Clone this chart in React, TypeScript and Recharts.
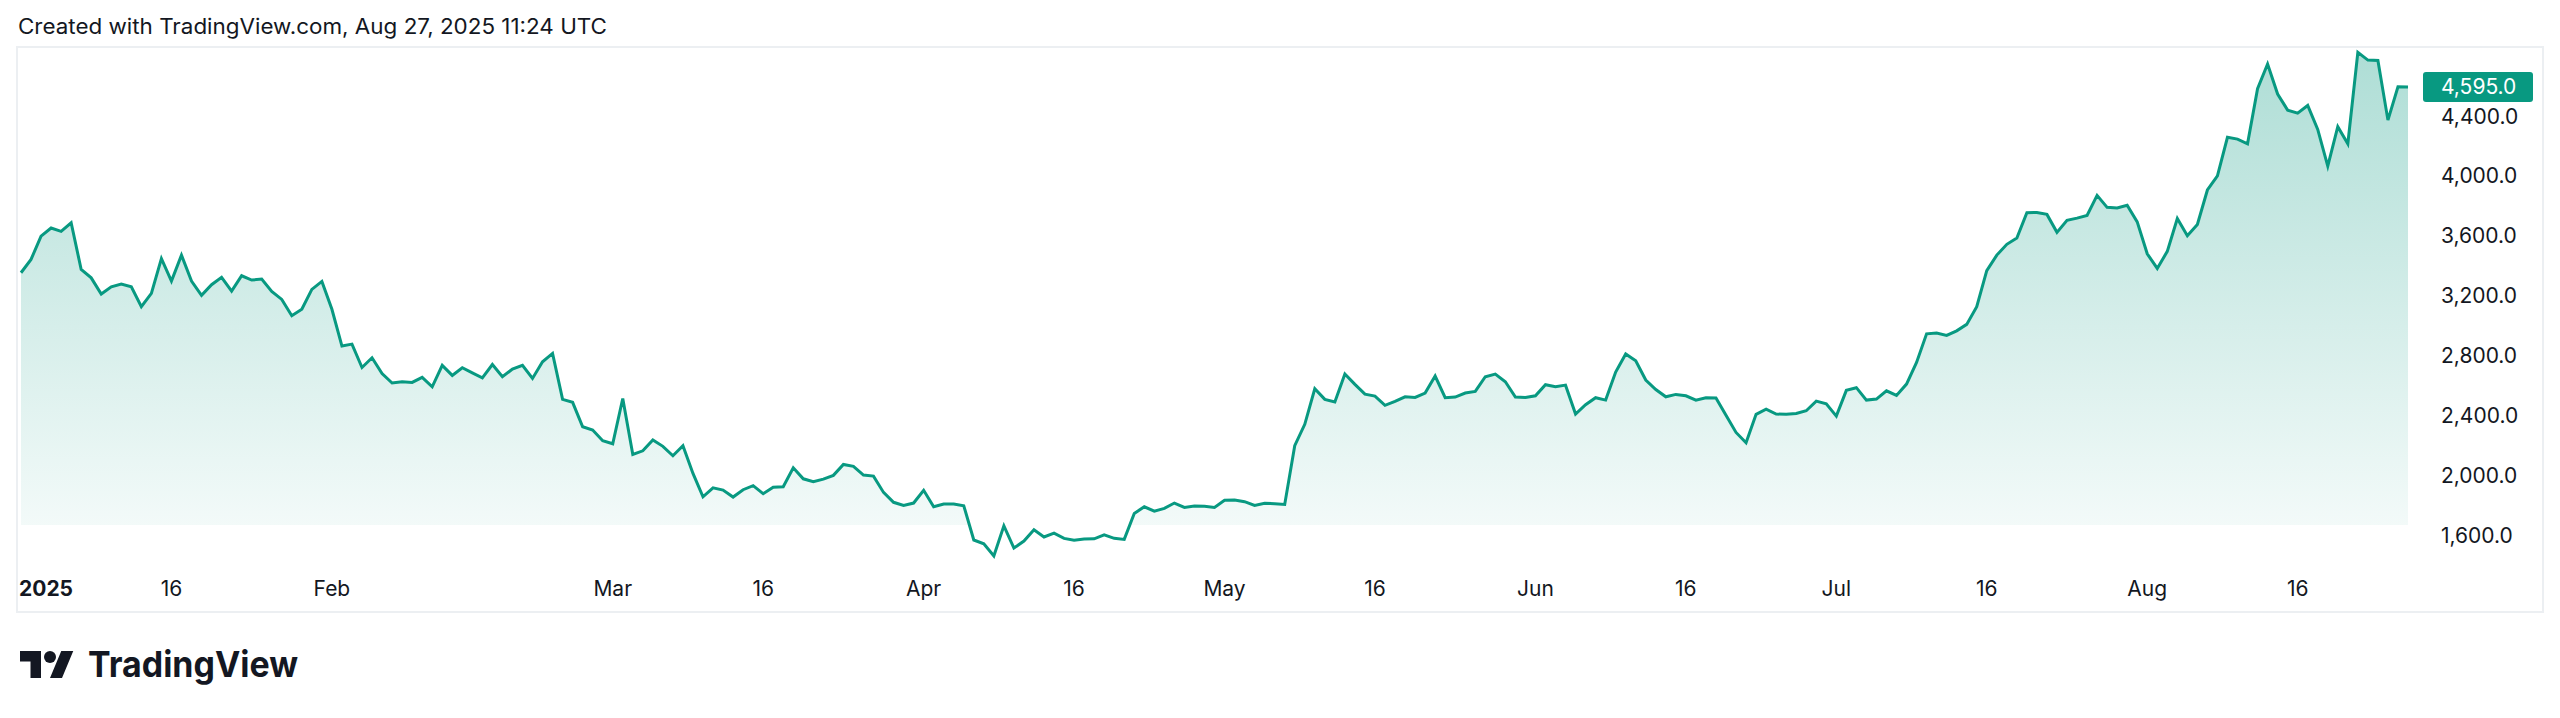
import React from 'react';
import { AreaChart, Area, XAxis, YAxis, ReferenceLine } from 'recharts';

// Daily closes, 2025
const jan = [3353, 3442, 3598, 3652, 3630, 3687, 3375, 3319, 3211, 3259, 3277, 3259, 3126, 3215, 3447, 3297, 3471, 3297, 3202, 3273, 3322, 3230, 3333, 3304, 3311, 3228, 3175, 3066, 3109, 3242, 3295];
const feb = [3109, 2863, 2876, 2720, 2785, 2680, 2616, 2625, 2620, 2654, 2591, 2734, 2667, 2718, 2684, 2651, 2740, 2658, 2709, 2734, 2647, 2758, 2814, 2507, 2487, 2324, 2302, 2230];
const mar = [2210, 2513, 2139, 2163, 2235, 2193, 2130, 2197, 2012, 1856, 1916, 1901, 1854, 1903, 1930, 1876, 1919, 1923, 2050, 1976, 1956, 1974, 1999, 2072, 2059, 2001, 1994, 1885, 1819, 1798, 1814];
const apr = [1899, 1789, 1807, 1807, 1796, 1567, 1542, 1460, 1662, 1513, 1560, 1635, 1587, 1613, 1578, 1565, 1573, 1575, 1602, 1578, 1571, 1745, 1789, 1760, 1778, 1814, 1785, 1794, 1792, 1785];
const may = [1832, 1834, 1823, 1798, 1812, 1810, 1805, 2197, 2340, 2578, 2507, 2489, 2676, 2607, 2542, 2529, 2467, 2493, 2524, 2520, 2549, 2663, 2518, 2522, 2549, 2560, 2658, 2676, 2625, 2522, 2520];
const jun = [2531, 2605, 2591, 2602, 2409, 2471, 2518, 2502, 2689, 2810, 2765, 2636, 2573, 2524, 2540, 2531, 2502, 2518, 2516, 2400, 2286, 2217, 2407, 2442, 2409, 2407, 2413, 2431, 2495, 2477];
const jul = [2395, 2567, 2585, 2502, 2509, 2564, 2533, 2609, 2754, 2945, 2950, 2934, 2965, 3008, 3126, 3367, 3471, 3543, 3585, 3754, 3756, 3743, 3623, 3703, 3718, 3736, 3870, 3790, 3786, 3804, 3693];
const aug = [3480, 3382, 3496, 3716, 3600, 3676, 3906, 4001, 4258, 4246, 4215, 4583, 4748, 4547, 4440, 4420, 4471, 4311, 4066, 4329, 4215, 4826, 4774, 4772, 4373, 4596, 4595];

const values = [...jan, ...feb, ...mar, ...apr, ...may, ...jun, ...jul, ...aug];
const data = values.map((v, i) => ({ i, v }));
const last = values[values.length - 1];

// time axis: day index from Jan 1 and its label
const tickDays = [0, 15, 31, 59, 74, 90, 105, 120, 135, 151, 166, 181, 196, 212, 227];
const tickLabels = ['2025', '16', 'Feb', 'Mar', '16', 'Apr', '16', 'May', '16', 'Jun', '16', 'Jul', '16', 'Aug', '16'];
const priceTicks = [1600, 2000, 2400, 2800, 3200, 3600, 4000, 4400];

const W = 2560;
const H = 718;
const PLOT_LEFT = 21;
const PLOT_RIGHT = 2408;
const PLOT_TOP = 48;
const PLOT_BOTTOM = 565;
const FILL_BOTTOM = 525;
const Y_MIN = 1400;
const Y_MAX = 4855;
const TEAL = '#089981';
const TEXT = '#131722';
const FONT = 'Inter, "Noto Sans", sans-serif';

const fmt = (v: number) =>
  v.toLocaleString('en-US', { minimumFractionDigits: 1, maximumFractionDigits: 1 });

const TimeTick = (props: any) => {
  const { x, payload } = props;
  const idx = tickDays.indexOf(payload.value);
  const first = idx === 0;
  return (
    <text
      x={first ? x - 2 : x}
      y={596}
      textAnchor={first ? 'start' : 'middle'}
      fontFamily={FONT}
      fontSize={21}
      fontWeight={first ? 700 : 400}
      fill={TEXT}
    >
      {tickLabels[idx]}
    </text>
  );
};

const PriceTick = (props: any) => {
  const { y, payload } = props;
  return (
    <text x={PLOT_RIGHT + 33} y={y + 7.5} textAnchor="start" fontFamily={FONT} fontSize={21} fill={TEXT}>
      {fmt(payload.value)}
    </text>
  );
};

const LastLabel = (props: any) => {
  const { viewBox } = props;
  if (!viewBox) return null;
  const x0 = viewBox.x + viewBox.width + 15;
  const y0 = viewBox.y;
  return (
    <g>
      <rect x={x0} y={y0 - 15} width={110} height={30} rx={3} fill={TEAL} />
      <text x={PLOT_RIGHT + 33} y={y0 + 7.5} textAnchor="start" fontFamily={FONT} fontSize={21} fill="#ffffff">
        {fmt(last)}
      </text>
    </g>
  );
};

const cut = (FILL_BOTTOM - PLOT_TOP) / (PLOT_BOTTOM - PLOT_TOP);

export default function App() {
  return (
    <div style={{ position: 'absolute', left: 0, top: 0, width: W, height: H, background: '#ffffff', overflow: 'hidden' }}>
      <svg width={W} height={H} style={{ position: 'absolute', left: 0, top: 0 }}>
        <text x={18} y={34} fontFamily={FONT} fontSize={21} fill={TEXT} textLength={589} lengthAdjust="spacingAndGlyphs">
          Created with TradingView.com, Aug 27, 2025 11:24 UTC
        </text>
        <rect x={17} y={47} width={2526} height={565} fill="none" stroke="#eceff2" strokeWidth={2} />
        <g transform="translate(20, 645) scale(1.5)" fill={TEXT}>
          <path d="M14 22H7V11H0V4h14v18zM28 22h-8l7.5-18h8L28 22z" />
          <circle cx={20} cy={8} r={4} />
        </g>
        <text x={88} y={677} fontFamily={FONT} fontSize={36} fontWeight={700} fill={TEXT} textLength={210} lengthAdjust="spacingAndGlyphs">
          TradingView
        </text>
      </svg>
      <div style={{ position: 'absolute', left: 0, top: 0 }}>
        <AreaChart width={W} height={H} data={data} margin={{ top: PLOT_TOP, right: 0, left: PLOT_LEFT, bottom: 0 }}>
          <defs>
            <linearGradient id="fillGrad" gradientUnits="userSpaceOnUse" x1={0} y1={PLOT_TOP} x2={0} y2={PLOT_BOTTOM}>
              <stop offset={0} stopColor={TEAL} stopOpacity={0.33} />
              <stop offset={cut} stopColor={TEAL} stopOpacity={0.05} />
              <stop offset={cut} stopColor={TEAL} stopOpacity={0} />
              <stop offset={1} stopColor={TEAL} stopOpacity={0} />
            </linearGradient>
          </defs>
          <XAxis
            type="number"
            dataKey="i"
            domain={[0, values.length - 1]}
            ticks={tickDays}
            interval={0}
            tick={<TimeTick />}
            axisLine={false}
            tickLine={false}
            height={H - PLOT_BOTTOM}
          />
          <YAxis
            orientation="right"
            domain={[Y_MIN, Y_MAX]}
            ticks={priceTicks}
            interval={0}
            tick={<PriceTick />}
            axisLine={false}
            tickLine={false}
            width={W - PLOT_RIGHT}
          />
          <Area
            type="linear"
            dataKey="v"
            stroke={TEAL}
            strokeWidth={3}
            fill="url(#fillGrad)"
            fillOpacity={1}
            dot={false}
            activeDot={false}
            isAnimationActive={false}
          />
          <ReferenceLine y={last} stroke="none" label={<LastLabel />} ifOverflow="visible" />
        </AreaChart>
      </div>
    </div>
  );
}
